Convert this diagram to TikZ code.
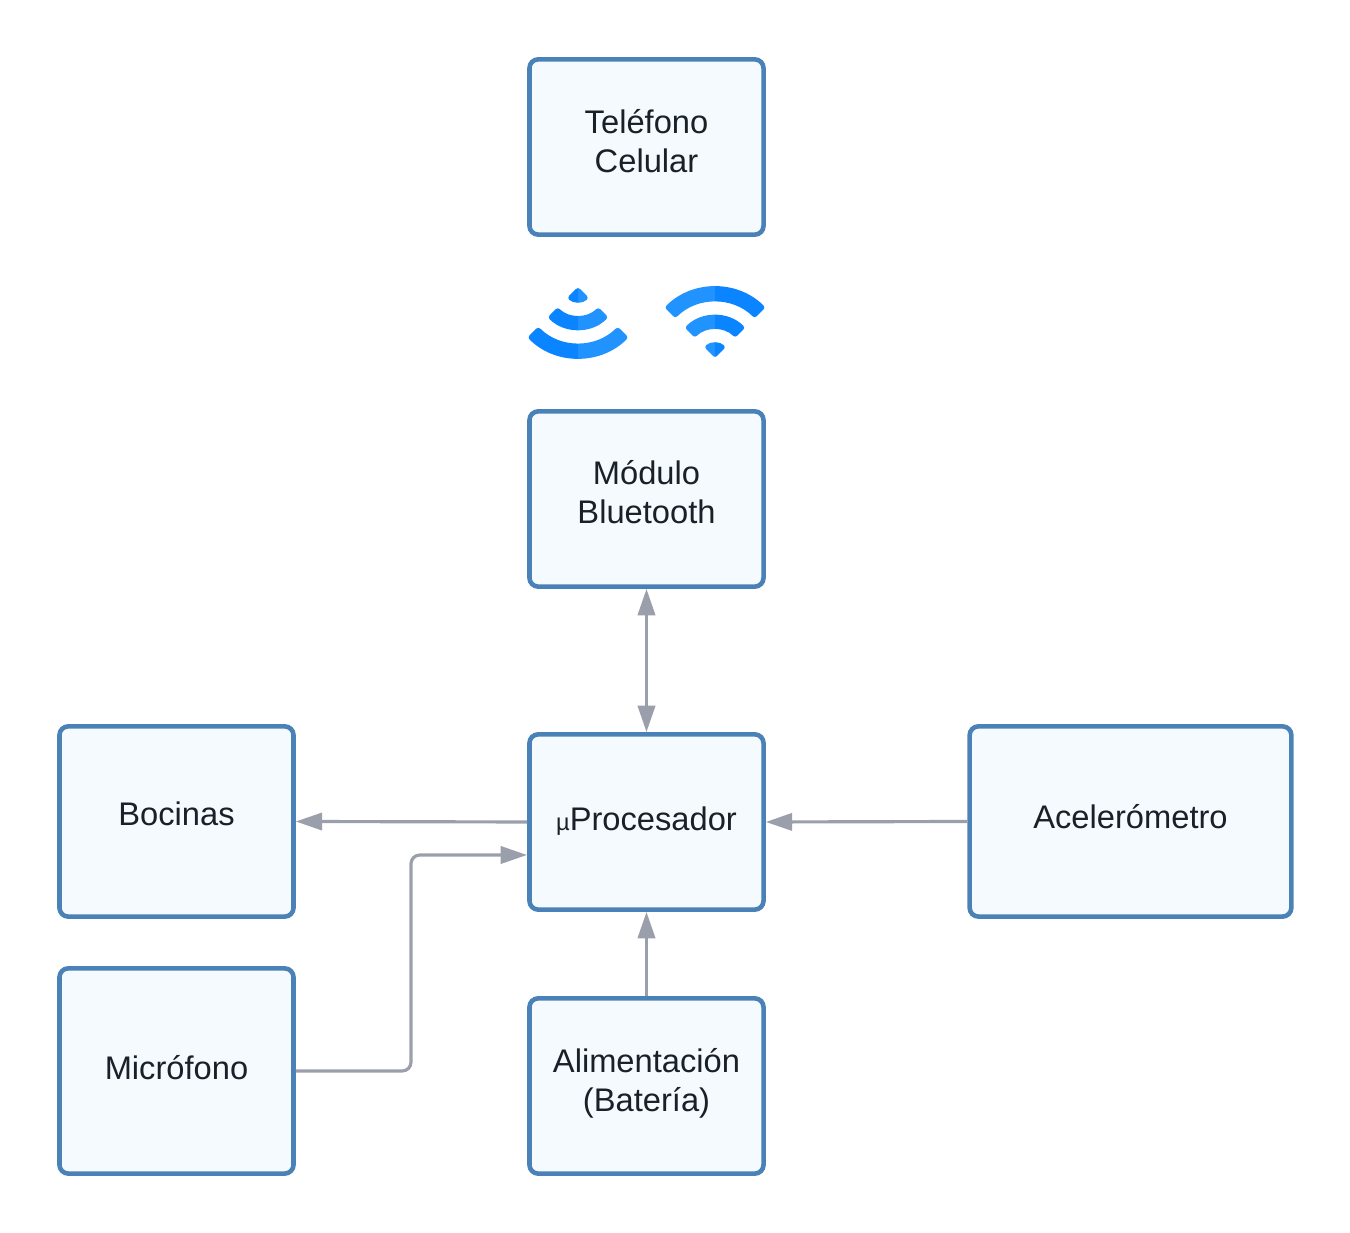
\documentclass[tikz,border=0pt]{standalone}
\usepackage{fontspec}
\setmainfont{Liberation Sans}
\usepackage{xcolor}
\usetikzlibrary{arrows.meta}
\definecolor{boxline}{HTML}{4A82B8}
\definecolor{boxfill}{HTML}{F5FAFF}
\definecolor{boxtext}{HTML}{1A2028}
\definecolor{flowgray}{HTML}{9A9FAB}
\definecolor{wavelight}{HTML}{2193FF}
\definecolor{wavedark}{HTML}{0A84FF}
\newcommand{\wavebands}[1]{
    \fill[#1, rounded corners=1.6pt] (0, 0) -- (45:15) arc[start angle=45, end angle=135, radius=15] -- cycle;
    \fill[#1, rounded corners=1.6pt] (45:28) arc[start angle=45, end angle=135, radius=28]
        -- (135:42) arc[start angle=135, end angle=45, radius=42] -- cycle;
    \fill[#1, rounded corners=1.6pt] (45:55) arc[start angle=45, end angle=135, radius=55]
        -- (135:70) arc[start angle=135, end angle=45, radius=70] -- cycle;
}
\tikzset{
    >={Triangle[length=15pt, width=9.8pt]},
    blockbox/.style={draw=boxline, fill=boxfill, text=boxtext, line width=2.6pt, rounded corners=5pt,
        minimum width=235*0.5669pt, align=center, inner sep=0pt,
        font=\fontsize{18.6}{22.3}\selectfont},
    flowline/.style={draw=flowgray, line width=1.8pt},
    wavesicon/.pic={
        \begin{scope}
            \clip (-80, -5) rectangle (0, 80);
            \wavebands{wavelight}
        \end{scope}
        \begin{scope}
            \clip (0, -5) rectangle (80, 80);
            \wavebands{wavedark}
        \end{scope}
    }
}
\begin{document}
\begin{tikzpicture}[x=0.02cm, y=0.02cm]
    \useasboundingbox (0, 0) rectangle (1350, 1233);
    \node[blockbox, minimum height=176*0.5669pt, text depth=7pt] (telefono) at (646.5, 1086) {Teléfono\\Celular};
    \node[blockbox, minimum height=176*0.5669pt, text depth=8pt] (modulo) at (646.5, 734) {Módulo\\Bluetooth};
    \node[blockbox, minimum height=176*0.5669pt, text depth=4pt] (uproc) at (646.5, 411) {{\fontsize{13.5}{15}\selectfont µ}Procesador};
    \node[blockbox, minimum height=191*0.5669pt, text depth=9.4pt] (bocinas) at (176.5, 411.5) {Bocinas};
    \node[blockbox, minimum height=206*0.5669pt, text depth=4pt] (microfono) at (176.5, 162) {Micrófono};
    \node[blockbox, minimum height=176*0.5669pt, text depth=7pt] (alimentacion) at (646.5, 147) {Alimentación\\(Batería)};
    \node[blockbox, minimum width=323*0.5669pt, minimum height=191*0.5669pt, text depth=6pt] (acelerometro) at (1130.5, 411.5) {Acelerómetro};
    \coordinate (codo) at (411, 378);
    \coordinate (micentra) at (527, 378);
    \draw[flowline, <->] (modulo.south) -- (uproc.north);
    \draw[flowline, ->] (uproc.west) -- (bocinas.east);
    \draw[flowline, ->] (acelerometro.west) -- (uproc.east);
    \draw[flowline, ->] (alimentacion.north) -- (uproc.south);
    \draw[flowline, ->, rounded corners=5pt] (microfono.east) -| (codo) -- (micentra);
    \pic[rotate=180, scale=1.02] at (578, 946) {wavesicon};
    \pic[scale=1.02] at (715, 875) {wavesicon};
\end{tikzpicture}
\end{document}
